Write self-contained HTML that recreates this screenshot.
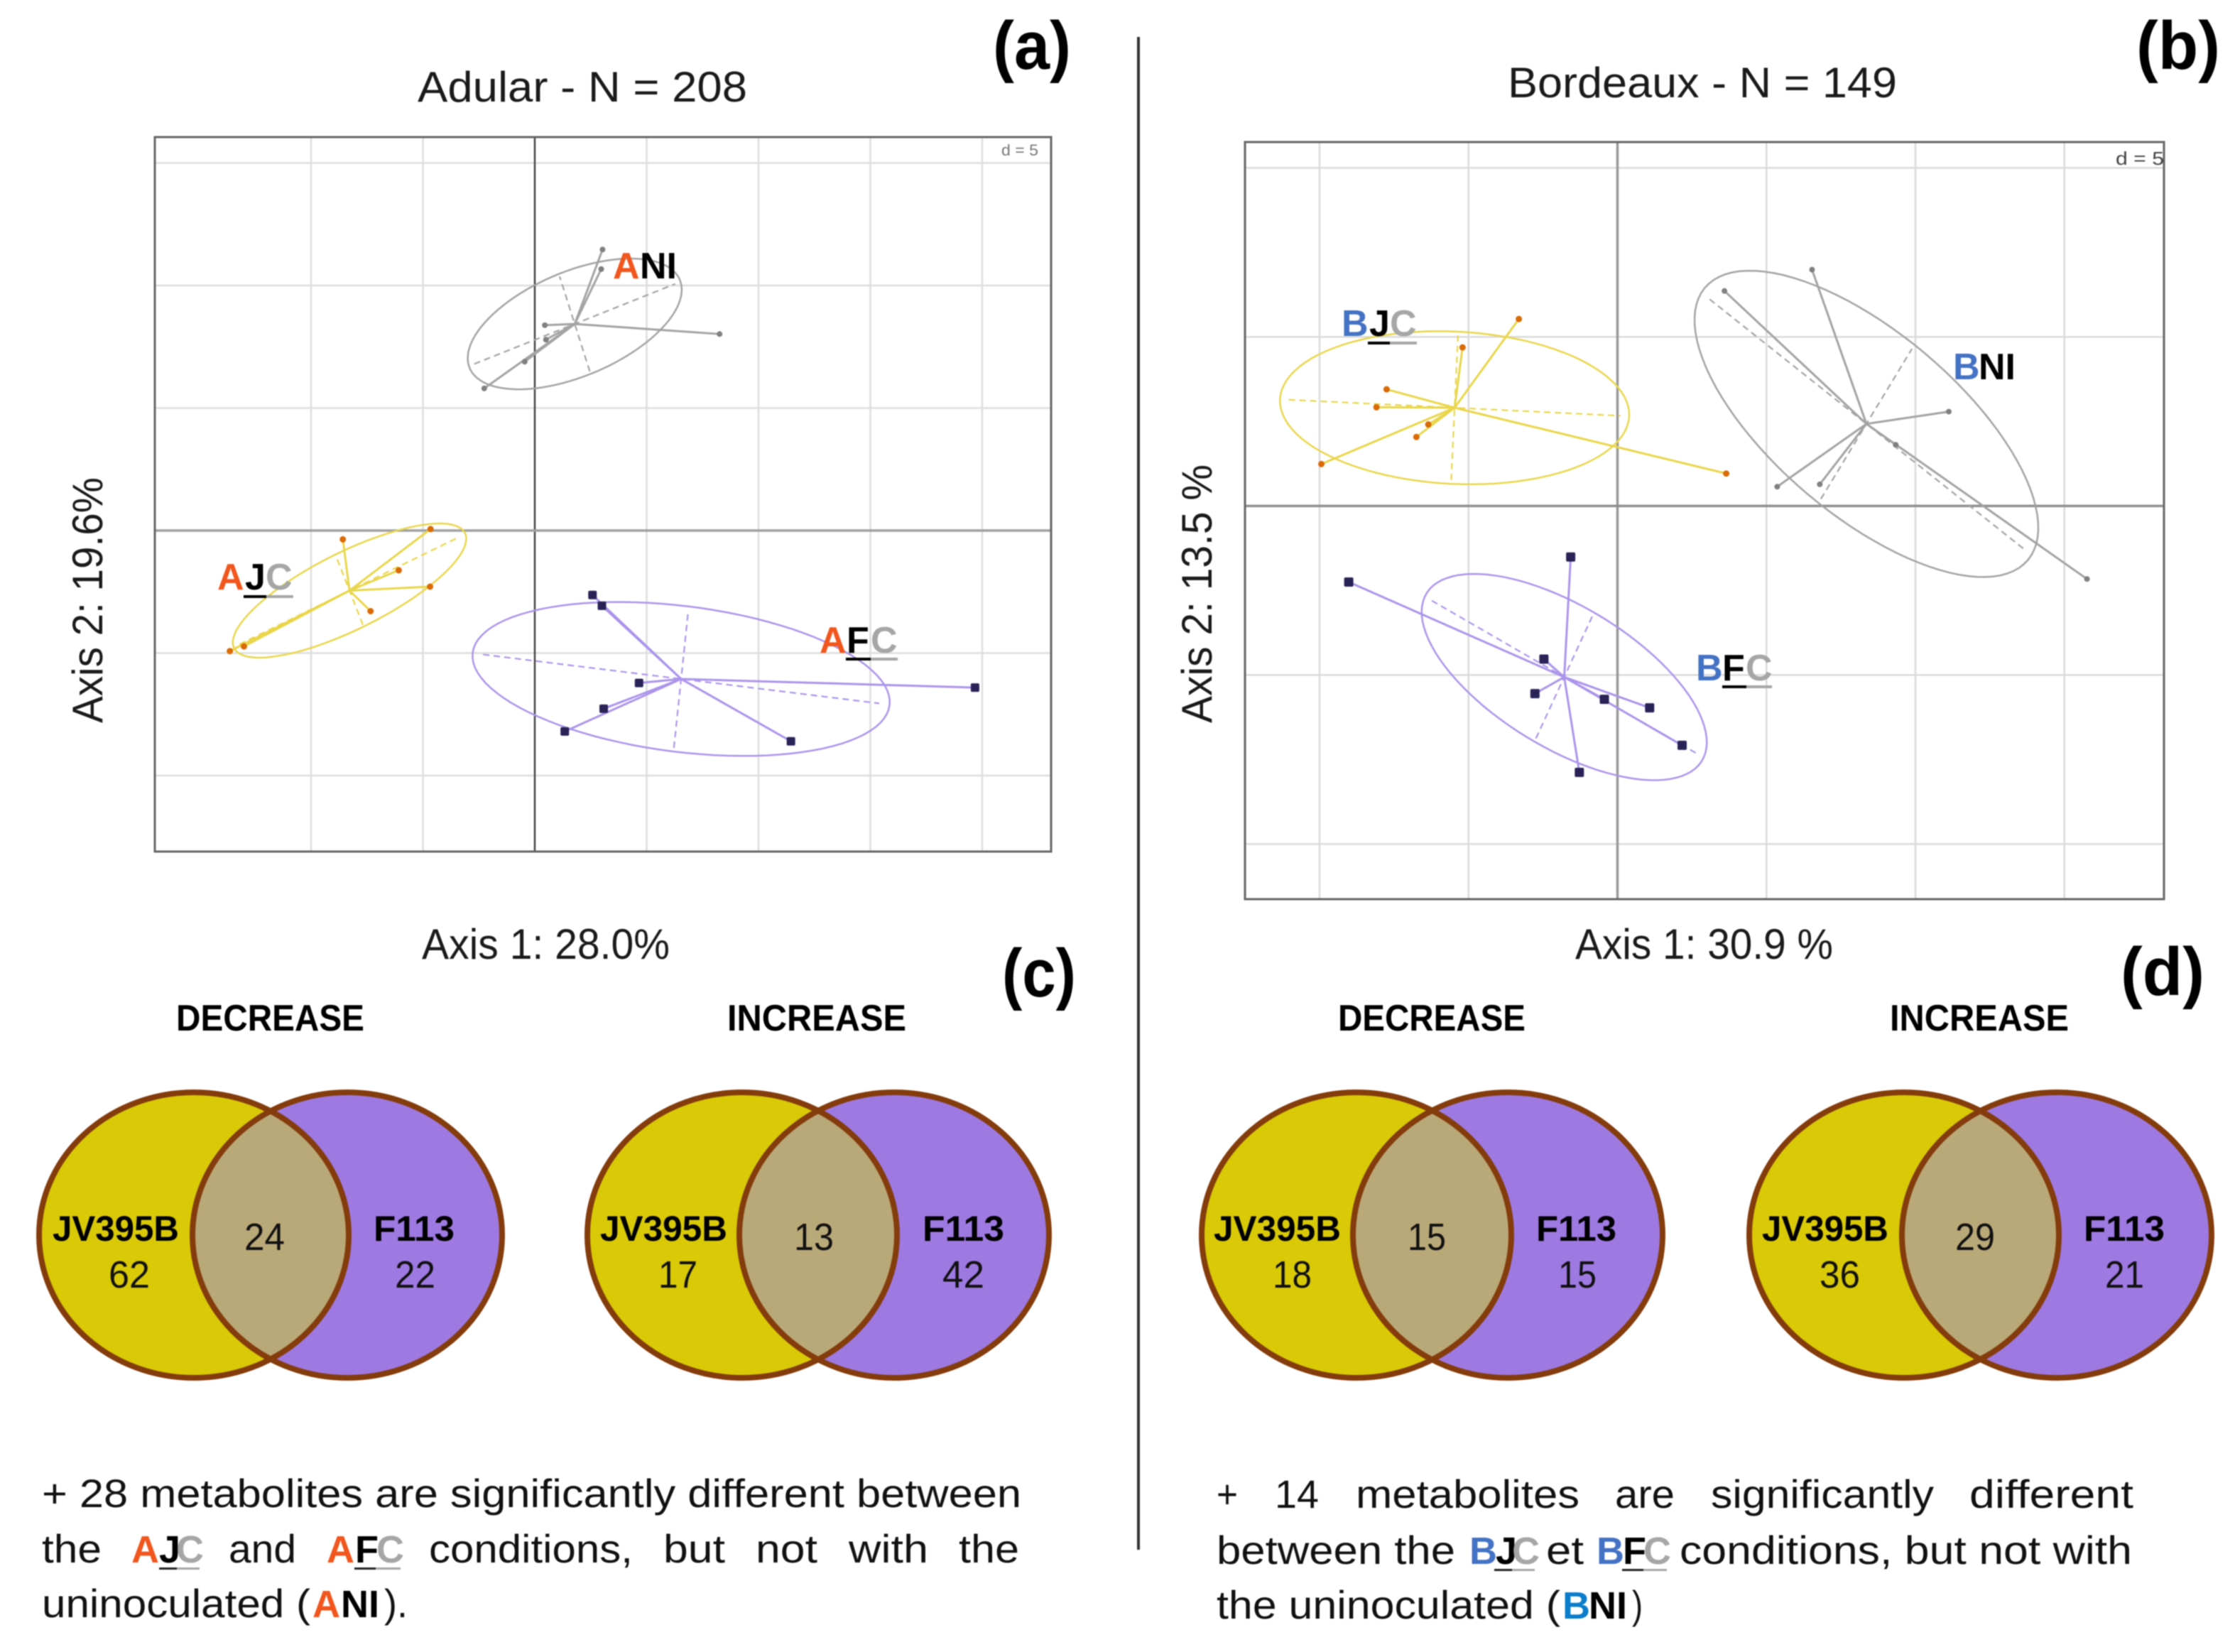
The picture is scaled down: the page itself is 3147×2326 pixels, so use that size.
<!DOCTYPE html>
<html lang="en">
<head>
<meta charset="utf-8">
<title>Adular and Bordeaux metabolite analysis</title>
<style>
html,body{margin:0;padding:0;background:#fff}
svg{display:block;font-family:"Liberation Sans",sans-serif;filter:blur(0.7px)}
.t{font-size:60px;fill:#1a1a1a}
.h{font-size:52px;font-weight:bold;fill:#000}
.v{font-size:50px;font-weight:bold;fill:#000}
.n{font-size:54px;fill:#111}
.p{font-size:56px;fill:#111}
.tag{font-size:52px;font-weight:bold}
.s{font-size:54px;font-weight:bold}
.o{fill:#f0561d}.k{fill:#000}.g{fill:#a6a6a6}.bl{fill:#4472c4}.bb{fill:#0b7dcb}
.big{font-size:96px;font-weight:bold;fill:#000}
</style>
</head>
<body>
<svg id="figure" xmlns="http://www.w3.org/2000/svg" width="3147" height="2326" viewBox="0 0 3147 2326">
<defs>
<clipPath id="clip-c1"><ellipse cx="273" cy="1739" rx="218" ry="201"/></clipPath>
<clipPath id="clip-c2"><ellipse cx="1045" cy="1739" rx="218" ry="201"/></clipPath>
<clipPath id="clip-d1"><ellipse cx="1910" cy="1739" rx="218" ry="201"/></clipPath>
<clipPath id="clip-d2"><ellipse cx="2681" cy="1739" rx="218" ry="201"/></clipPath>
</defs>
<rect width="3147" height="2326" fill="#fff"/>

<line x1="1603" y1="52" x2="1603" y2="2182" stroke="#333" stroke-width="4"/>

<text class="big" x="1398" y="97" textLength="110" lengthAdjust="spacingAndGlyphs">(a)</text>
<text class="big" x="3008" y="97" textLength="118" lengthAdjust="spacingAndGlyphs">(b)</text>
<text class="big" x="1411" y="1403" textLength="104" lengthAdjust="spacingAndGlyphs">(c)</text>
<text class="big" x="2986" y="1401" textLength="118" lengthAdjust="spacingAndGlyphs">(d)</text>

<text class="t" x="588" y="143" textLength="464" lengthAdjust="spacingAndGlyphs">Adular - N = 208</text>
<text class="t" x="2123" y="137" textLength="548" lengthAdjust="spacingAndGlyphs">Bordeaux - N = 149</text>

<g id="plot-a"></g>
<g id="plot-b"></g>

<text class="t" x="594" y="1350" textLength="349" lengthAdjust="spacingAndGlyphs">Axis 1: 28.0%</text>
<text class="t" x="2218" y="1350" textLength="363" lengthAdjust="spacingAndGlyphs">Axis 1: 30.9 %</text>
<text class="t" transform="translate(144 1018) rotate(-90)" textLength="346" lengthAdjust="spacingAndGlyphs">Axis 2: 19.6%</text>
<text class="t" transform="translate(1706 1018) rotate(-90)" textLength="364" lengthAdjust="spacingAndGlyphs">Axis 2: 13.5 %</text>

<!-- group labels, panel a -->
<g><text class="tag" y="392"><tspan class="o" x="863">A</tspan><tspan class="k" x="901">NI</tspan></text></g>
<g><text class="tag" y="830"><tspan class="o" x="306">A</tspan><tspan class="k" x="345">J</tspan><tspan class="g" x="374">C</tspan></text><rect x="343" y="838" width="32" height="4" fill="#000"/><rect x="375" y="838" width="38" height="4" fill="#a6a6a6"/></g>
<g><text class="tag" y="919"><tspan class="o" x="1154">A</tspan><tspan class="k" x="1192">F</tspan><tspan class="g" x="1226">C</tspan></text><rect x="1191" y="926" width="35" height="4" fill="#000"/><rect x="1226" y="926" width="38" height="4" fill="#a6a6a6"/></g>
<!-- group labels, panel b -->
<g><text class="tag" y="473"><tspan class="bl" x="1889">B</tspan><tspan class="k" x="1928">J</tspan><tspan class="g" x="1957">C</tspan></text><rect x="1926" y="481" width="31" height="4" fill="#000"/><rect x="1957" y="481" width="38" height="4" fill="#a6a6a6"/></g>
<g><text class="tag" y="534"><tspan class="bl" x="2750">B</tspan><tspan class="k" x="2786">NI</tspan></text></g>
<g><text class="tag" y="958"><tspan class="bl" x="2388">B</tspan><tspan class="k" x="2425">F</tspan><tspan class="g" x="2458">C</tspan></text><rect x="2425" y="965" width="34" height="4" fill="#000"/><rect x="2459" y="965" width="36" height="4" fill="#a6a6a6"/></g>

<text class="h" x="248" y="1451" textLength="265" lengthAdjust="spacingAndGlyphs">DECREASE</text>
<text class="h" x="1024" y="1451" textLength="252" lengthAdjust="spacingAndGlyphs">INCREASE</text>
<text class="h" x="1884" y="1451" textLength="264" lengthAdjust="spacingAndGlyphs">DECREASE</text>
<text class="h" x="2661" y="1451" textLength="252" lengthAdjust="spacingAndGlyphs">INCREASE</text>

<!-- venn c1 -->
<g>
<ellipse cx="273" cy="1739" rx="218" ry="201" fill="#d9c907"/>
<ellipse cx="489" cy="1739" rx="218" ry="201" fill="#9e79e2"/>
<ellipse cx="489" cy="1739" rx="218" ry="201" fill="#b9a878" clip-path="url(#clip-c1)"/>
<ellipse cx="273" cy="1739" rx="218" ry="201" fill="none" stroke="#843c0c" stroke-width="8"/>
<ellipse cx="489" cy="1739" rx="218" ry="201" fill="none" stroke="#843c0c" stroke-width="8"/>
<text class="v" x="74" y="1747" textLength="178" lengthAdjust="spacingAndGlyphs">JV395B</text>
<text class="n" x="153" y="1813" textLength="58" lengthAdjust="spacingAndGlyphs">62</text>
<text class="n" x="344" y="1760" textLength="57" lengthAdjust="spacingAndGlyphs">24</text>
<text class="v" x="526" y="1747" textLength="114" lengthAdjust="spacingAndGlyphs">F113</text>
<text class="n" x="556" y="1813" textLength="57" lengthAdjust="spacingAndGlyphs">22</text>
</g>
<!-- venn c2 -->
<g>
<ellipse cx="1045" cy="1739" rx="218" ry="201" fill="#d9c907"/>
<ellipse cx="1259" cy="1739" rx="218" ry="201" fill="#9e79e2"/>
<ellipse cx="1259" cy="1739" rx="218" ry="201" fill="#b9a878" clip-path="url(#clip-c2)"/>
<ellipse cx="1045" cy="1739" rx="218" ry="201" fill="none" stroke="#843c0c" stroke-width="8"/>
<ellipse cx="1259" cy="1739" rx="218" ry="201" fill="none" stroke="#843c0c" stroke-width="8"/>
<text class="v" x="845" y="1747" textLength="179" lengthAdjust="spacingAndGlyphs">JV395B</text>
<text class="n" x="927" y="1813" textLength="55" lengthAdjust="spacingAndGlyphs">17</text>
<text class="n" x="1118" y="1760" textLength="56" lengthAdjust="spacingAndGlyphs">13</text>
<text class="v" x="1299" y="1747" textLength="115" lengthAdjust="spacingAndGlyphs">F113</text>
<text class="n" x="1327" y="1813" textLength="59" lengthAdjust="spacingAndGlyphs">42</text>
</g>
<!-- venn d1 -->
<g>
<ellipse cx="1910" cy="1739" rx="218" ry="201" fill="#d9c907"/>
<ellipse cx="2123" cy="1739" rx="218" ry="201" fill="#9e79e2"/>
<ellipse cx="2123" cy="1739" rx="218" ry="201" fill="#b9a878" clip-path="url(#clip-d1)"/>
<ellipse cx="1910" cy="1739" rx="218" ry="201" fill="none" stroke="#843c0c" stroke-width="8"/>
<ellipse cx="2123" cy="1739" rx="218" ry="201" fill="none" stroke="#843c0c" stroke-width="8"/>
<text class="v" x="1709" y="1747" textLength="179" lengthAdjust="spacingAndGlyphs">JV395B</text>
<text class="n" x="1792" y="1813" textLength="55" lengthAdjust="spacingAndGlyphs">18</text>
<text class="n" x="1982" y="1760" textLength="54" lengthAdjust="spacingAndGlyphs">15</text>
<text class="v" x="2163" y="1747" textLength="113" lengthAdjust="spacingAndGlyphs">F113</text>
<text class="n" x="2194" y="1813" textLength="54" lengthAdjust="spacingAndGlyphs">15</text>
</g>
<!-- venn d2 -->
<g>
<ellipse cx="2681" cy="1739" rx="218" ry="201" fill="#d9c907"/>
<ellipse cx="2896" cy="1739" rx="218" ry="201" fill="#9e79e2"/>
<ellipse cx="2896" cy="1739" rx="218" ry="201" fill="#b9a878" clip-path="url(#clip-d2)"/>
<ellipse cx="2681" cy="1739" rx="218" ry="201" fill="none" stroke="#843c0c" stroke-width="8"/>
<ellipse cx="2896" cy="1739" rx="218" ry="201" fill="none" stroke="#843c0c" stroke-width="8"/>
<text class="v" x="2481" y="1747" textLength="178" lengthAdjust="spacingAndGlyphs">JV395B</text>
<text class="n" x="2562" y="1813" textLength="57" lengthAdjust="spacingAndGlyphs">36</text>
<text class="n" x="2753" y="1760" textLength="56" lengthAdjust="spacingAndGlyphs">29</text>
<text class="v" x="2934" y="1747" textLength="114" lengthAdjust="spacingAndGlyphs">F113</text>
<text class="n" x="2964" y="1813" textLength="55" lengthAdjust="spacingAndGlyphs">21</text>
</g>

<!-- note c -->
<g>
<text class="p" x="59" y="2122" textLength="1379" lengthAdjust="spacingAndGlyphs">+ 28 metabolites are significantly different between</text>
<text class="p" x="59" y="2200" textLength="84" lengthAdjust="spacingAndGlyphs">the</text>
<text class="s" y="2200"><tspan class="o" x="185">A</tspan><tspan class="k" x="224">J</tspan><tspan class="g" x="248">C</tspan></text>
<rect x="224" y="2207" width="25" height="3" fill="#222"/><rect x="249" y="2207" width="32" height="3" fill="#a6a6a6"/>
<text class="p" x="322" y="2200" textLength="95" lengthAdjust="spacingAndGlyphs">and</text>
<text class="s" y="2200"><tspan class="o" x="460">A</tspan><tspan class="k" x="500">F</tspan><tspan class="g" x="530">C</tspan></text>
<rect x="499" y="2207" width="30" height="3" fill="#222"/><rect x="529" y="2207" width="35" height="3" fill="#a6a6a6"/>
<text class="p" x="604" y="2200" textLength="287" lengthAdjust="spacingAndGlyphs">conditions,</text>
<text class="p" x="934" y="2200" textLength="87" lengthAdjust="spacingAndGlyphs">but</text>
<text class="p" x="1064" y="2200" textLength="87" lengthAdjust="spacingAndGlyphs">not</text>
<text class="p" x="1195" y="2200" textLength="112" lengthAdjust="spacingAndGlyphs">with</text>
<text class="p" x="1350" y="2200" textLength="85" lengthAdjust="spacingAndGlyphs">the</text>
<text class="p" x="59" y="2277" textLength="378" lengthAdjust="spacingAndGlyphs">uninoculated (</text>
<text class="s" y="2277"><tspan class="o" x="440">A</tspan><tspan class="k" x="480">NI</tspan></text>
<text class="p" x="541" y="2277" textLength="33" lengthAdjust="spacingAndGlyphs">).</text>
</g>

<!-- note d -->
<g>
<text class="p" x="1713" y="2123" textLength="30" lengthAdjust="spacingAndGlyphs">+</text>
<text class="p" x="1795" y="2123" textLength="62" lengthAdjust="spacingAndGlyphs">14</text>
<text class="p" x="1909" y="2123" textLength="315" lengthAdjust="spacingAndGlyphs">metabolites</text>
<text class="p" x="2274" y="2123" textLength="84" lengthAdjust="spacingAndGlyphs">are</text>
<text class="p" x="2409" y="2123" textLength="314" lengthAdjust="spacingAndGlyphs">significantly</text>
<text class="p" x="2773" y="2123" textLength="231" lengthAdjust="spacingAndGlyphs">different</text>
<text class="p" x="1713" y="2202" textLength="336" lengthAdjust="spacingAndGlyphs">between the</text>
<text class="s" y="2202"><tspan class="bl" x="2069">B</tspan><tspan class="k" x="2106">J</tspan><tspan class="g" x="2129">C</tspan></text>
<rect x="2104" y="2209" width="25" height="3" fill="#222"/><rect x="2129" y="2209" width="32" height="3" fill="#a6a6a6"/>
<text class="p" x="2177" y="2202" textLength="53" lengthAdjust="spacingAndGlyphs">et</text>
<text class="s" y="2202"><tspan class="bl" x="2248">B</tspan><tspan class="k" x="2285">F</tspan><tspan class="g" x="2314">C</tspan></text>
<rect x="2284" y="2209" width="30" height="3" fill="#222"/><rect x="2314" y="2209" width="33" height="3" fill="#a6a6a6"/>
<text class="p" x="2365" y="2202" textLength="637" lengthAdjust="spacingAndGlyphs">conditions, but not with</text>
<text class="p" x="1713" y="2279" textLength="484" lengthAdjust="spacingAndGlyphs">the uninoculated (</text>
<text class="s" y="2279"><tspan class="bb" x="2200">B</tspan><tspan class="k" x="2237">NI</tspan></text>
<text class="p" x="2298" y="2279" textLength="15" lengthAdjust="spacingAndGlyphs">)</text>
</g>
</svg>

<script>
// Grid tick values (d = 5)
const adularXTicks = [-10, -5, 0, 5, 10, 15, 20];
const adularYTicks = [15, 10, 5, 0, -5, -10];
const bordeauxXTicks = [-10, -5, 0, 5, 10, 15];
const bordeauxYTicks = [10, 5, 0, -5, -10];

// Adular: site scores per condition
const aniX = [3.03, 2.97, 0.45, 0.50, -0.45, -2.26, 8.26];
const aniY = [11.47, 10.67, 8.38, 7.79, 6.89, 5.80, 8.02];
const ajcX = [-8.58, -4.66, -6.08, -4.68, -7.34, -13.00, -13.63];
const ajcY = [-0.36, 0.06, -1.62, -2.29, -3.29, -4.73, -4.92];
const afcX = [2.58, 3.00, 4.66, 3.08, 1.34, 11.45, 19.68];
const afcY = [-2.63, -3.07, -6.22, -7.27, -8.20, -8.60, -6.41];

// Adular: ellipse semi-axes [dx, dy]
const aniMajor = [4.73, 1.72];
const aniMinor = [-0.71, 2.04];
const ajcMajor = [5.18, 2.31];
const ajcMinor = [-0.63, 1.47];
const afcMajor = [9.32, -1.05];
const afcMinor = [0.34, 2.96];

// Bordeaux: site scores per condition
const bjcX = [-3.31, -5.20, -7.75, -8.09, -6.35, -6.75, -9.94, 3.65];
const bjcY = [5.53, 4.69, 3.45, 2.92, 2.41, 2.04, 1.24, 0.96];
const bniX = [6.53, 3.59, 11.12, 9.34, 5.36, 6.79, 15.76];
const bniY = [6.99, 6.36, 2.79, 1.81, 0.57, 0.64, -2.16];
const bfcX = [-9.02, -1.57, -2.47, -2.77, -0.44, 1.08, 2.17, -1.28];
const bfcY = [-2.25, -1.51, -4.53, -5.55, -5.72, -5.97, -7.08, -7.88];

// Bordeaux: ellipse semi-axes [dx, dy]
const bjcMajor = [5.86, -0.25];
const bjcMinor = [0.12, 2.25];
const bniMajor = [5.54, -3.88];
const bniMinor = [1.61, 2.34];
const bfcMajor = [4.68, -2.38];
const bfcMinor = [1.00, 1.91];

const NS = 'http://www.w3.org/2000/svg';

// Axis functions
function adularScaleX(v) { return 753 + v * 31.5; }
function adularScaleY(v) { return 747 - v * 34.5; }
function bordeauxScaleX(v) { return 2277.5 + v * 41.95; }
function bordeauxScaleY(v) { return 712.4 - v * 47.6; }

function mean(a) { return a.reduce(function (s, v) { return s + v; }, 0) / a.length; }

function addLine(parent, name, x1, y1, x2, y2, color, width, dash) {
  const el = document.createElementNS(NS, 'line');
  
  
  el.setAttribute('x1', x1);
  el.setAttribute('y1', y1);
  el.setAttribute('x2', x2);
  el.setAttribute('y2', y2);
  el.setAttribute('stroke', color);
  el.setAttribute('stroke-width', width);
  if (dash) el.setAttribute('stroke-dasharray', dash);
  parent.appendChild(el);
  return el;
}

function drawFrame(parent, prefix, sx, sy, xTicks, yTicks, left, top, right, bottom, gridColor, vAxisColor, vAxisWidth, hAxisColor) {
  xTicks.forEach(function (t) {
    if (t !== 0) addLine(parent, prefix + '-gridline-x', sx(t), top, sx(t), bottom, gridColor, 2.5);
  });
  yTicks.forEach(function (t) {
    if (t !== 0) addLine(parent, prefix + '-gridline-y', left, sy(t), right, sy(t), gridColor, 2.5);
  });
  addLine(parent, prefix + '-axis-vertical', sx(0), top, sx(0), bottom, vAxisColor, vAxisWidth);
  addLine(parent, prefix + '-axis-horizontal', left, sy(0), right, sy(0), hAxisColor, 3.5);
  const frame = document.createElementNS(NS, 'rect');
  
  
  frame.setAttribute('x', left);
  frame.setAttribute('y', top);
  frame.setAttribute('width', right - left);
  frame.setAttribute('height', bottom - top);
  frame.setAttribute('fill', 'none');
  frame.setAttribute('stroke', '#666');
  frame.setAttribute('stroke-width', 3);
  parent.appendChild(frame);
}

function drawClass(parent, name, xs, ys, major, minor, sx, sy, lineColor, pointColor, square, size) {
  const g = document.createElementNS(NS, 'g');
  
  
  parent.appendChild(g);
  const cx = mean(xs), cy = mean(ys);

  // ellipse from centroid and semi-axes
  let d = '';
  for (let i = 0; i <= 96; i++) {
    const a = i / 96 * Math.PI * 2;
    const px = sx(cx + major[0] * Math.cos(a) + minor[0] * Math.sin(a));
    const py = sy(cy + major[1] * Math.cos(a) + minor[1] * Math.sin(a));
    d += (i ? 'L' : 'M') + px.toFixed(1) + ' ' + py.toFixed(1);
  }
  const ell = document.createElementNS(NS, 'path');
  
  
  ell.setAttribute('d', d + 'Z');
  ell.setAttribute('fill', 'none');
  ell.setAttribute('stroke', lineColor);
  ell.setAttribute('stroke-width', 2.5);
  g.appendChild(ell);

  // dashed ellipse axes
  [major, minor].forEach(function (v, k) {
    const f = 0.95;
    addLine(g, name + (k ? '-minor-axis' : '-major-axis'),
      sx(cx - v[0] * f), sy(cy - v[1] * f), sx(cx + v[0] * f), sy(cy + v[1] * f),
      lineColor, 2.2, '9 6');
  });

  // stars from centroid to each point
  xs.forEach(function (x, i) {
    addLine(g, name + '-star-line', sx(cx), sy(cy), sx(x), sy(ys[i]), lineColor, 3);
  });

  // points
  xs.forEach(function (x, i) {
    const el = document.createElementNS(NS, square ? 'rect' : 'circle');
    
    
    if (square) {
      el.setAttribute('x', sx(x) - size / 2);
      el.setAttribute('y', sy(ys[i]) - size / 2);
      el.setAttribute('width', size);
      el.setAttribute('height', size);
      el.setAttribute('rx', 2);
    } else {
      el.setAttribute('cx', sx(x));
      el.setAttribute('cy', sy(ys[i]));
      el.setAttribute('r', size / 2);
    }
    el.setAttribute('fill', pointColor);
    g.appendChild(el);
  });
}

function addScaleNote(parent, name, x, y, size, color, width) {
  const el = document.createElementNS(NS, 'text');
  
  
  el.setAttribute('x', x);
  el.setAttribute('y', y);
  el.setAttribute('font-size', size);
  el.setAttribute('fill', color);
  el.setAttribute('textLength', width);
  el.setAttribute('lengthAdjust', 'spacingAndGlyphs');
  el.textContent = 'd = 5';
  parent.appendChild(el);
}

const GRAY = '#a3a3a3', YEL = '#e9d64b', PUR = '#ab94ea';
const GRAYPT = '#808080', ORG = '#d96a06', NAVY = '#2a2358';

const plotA = document.getElementById('plot-a');
drawFrame(plotA, 'adular', adularScaleX, adularScaleY, adularXTicks, adularYTicks, 218, 193, 1480, 1199, '#dedede', '#444', 2.5, '#a0a0a0');
addScaleNote(plotA, 'adular-scale-note', 1410, 219, 22, '#777', 52);
drawClass(plotA, 'ani', aniX, aniY, aniMajor, aniMinor, adularScaleX, adularScaleY, GRAY, GRAYPT, false, 8);
drawClass(plotA, 'ajc', ajcX, ajcY, ajcMajor, ajcMinor, adularScaleX, adularScaleY, YEL, ORG, false, 9);
drawClass(plotA, 'afc', afcX, afcY, afcMajor, afcMinor, adularScaleX, adularScaleY, PUR, NAVY, true, 12);

const plotB = document.getElementById('plot-b');
drawFrame(plotB, 'bordeaux', bordeauxScaleX, bordeauxScaleY, bordeauxXTicks, bordeauxYTicks, 1753, 200, 3047, 1266, '#dadada', '#999', 3.5, '#8f8f8f');
addScaleNote(plotB, 'bordeaux-scale-note', 2979, 232, 26, '#444', 68);
drawClass(plotB, 'bjc', bjcX, bjcY, bjcMajor, bjcMinor, bordeauxScaleX, bordeauxScaleY, YEL, ORG, false, 9);
drawClass(plotB, 'bni', bniX, bniY, bniMajor, bniMinor, bordeauxScaleX, bordeauxScaleY, GRAY, GRAYPT, false, 8);
drawClass(plotB, 'bfc', bfcX, bfcY, bfcMajor, bfcMinor, bordeauxScaleX, bordeauxScaleY, PUR, NAVY, true, 13);
</script>
</body>
</html>
